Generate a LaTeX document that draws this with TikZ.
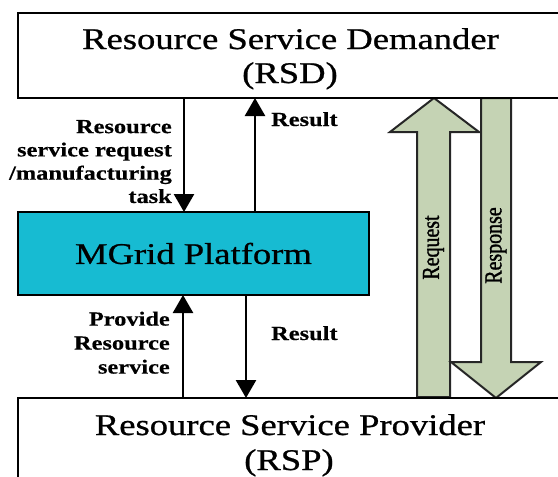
\documentclass[tikz,border=0pt]{standalone}
\usepackage{fontspec}
\setmainfont{Liberation Serif}[FakeStretch=1.22,UprightFeatures={FakeBold=0.8},BoldFeatures={FakeBold=0.4}]
\newfontfamily\rotfont{Liberation Serif}[FakeStretch=0.82,FakeBold=1.2]
\usetikzlibrary{arrows.meta}
\definecolor{mgridcyan}{HTML}{17BBD2}
\definecolor{sage}{HTML}{C5D3B4}
\begin{document}
\begin{tikzpicture}[x=1pt,y=-1pt,
  box/.style={draw=black, line width=2.4pt, fill=white, inner sep=0pt, outer sep=0pt, anchor=north west},
  big/.style={font=\fontsize{30}{34}\selectfont, inner sep=0pt, anchor=base},
  lab/.style={font=\fontsize{20}{23.3}\selectfont\bfseries, inner sep=0pt, align=right, anchor=north east},
  res/.style={font=\fontsize{20}{23}\selectfont\bfseries, inner sep=0pt, anchor=base west},
  arr/.style={line width=2.6pt, -{Triangle[length=18pt,width=20pt]}},
  bigarrow/.style={draw=black!85, line width=2pt, fill=sage, line join=miter},
  rot/.style={font=\rotfont\fontsize{24.3}{26}\selectfont, rotate=90, inner sep=0pt}
]
\clip (0,0) rectangle (558,477);
\fill[white] (0,0) rectangle (558,477);

% big request / response arrows
\draw[bigarrow] (417,397) -- (417,132) -- (390,132) -- (434,98) -- (479,132) -- (450,132) -- (450,397) -- cycle;
\draw[bigarrow] (481,98) -- (511,98) -- (511,362) -- (541,362) -- (496,398) -- (451,362) -- (481,362) -- cycle;
\node[rot] (reqtxt) at (433.5,247.5) {Request};
\node[rot] (resptxt) at (496,245.5) {Response};

% boxes
\node[box, minimum width=620pt, minimum height=85pt] (rsd) at (18,13) {};
\node[box, fill=mgridcyan, minimum width=351pt, minimum height=83pt,
      font=\fontsize{30}{34}\selectfont] (mgrid) at (18,212) {MGrid Platform};
\node[box, minimum width=620pt, minimum height=120pt] (rsp) at (18,398) {};

\node[big] (rsdA) at (290.5,49) {Resource Service Demander};
\node[big] (rsdB) at (290,83) {(RSD)};
\node[big] (rspA) at (290,435) {Resource Service Provider};
\node[big] (rspB) at (289,470) {(RSP)};

% connectors
\coordinate (xa) at (184,0);
\coordinate (xb) at (255,0);
\coordinate (xc) at (183,0);
\coordinate (xd) at (246,0);
\draw[arr] (rsd.south -| xa) -- (mgrid.north -| xa);
\draw[arr] (mgrid.north -| xb) -- (rsd.south -| xb);
\draw[arr] (rsp.north -| xc) -- (mgrid.south -| xc);
\draw[arr] (mgrid.south -| xd) -- (rsp.north -| xd);

% labels
\node[lab] (reqlab) at (172,119.8) {Resource\\service request\\/manufacturing\\task};
\node[res] (res1) at (271,126) {Result};
\node[res] (res2) at (271,340) {Result};
\node[lab, font=\fontsize{20}{24}\selectfont\bfseries] (provlab) at (170,311.5) {Provide\\Resource\\service};
\end{tikzpicture}
\end{document}
